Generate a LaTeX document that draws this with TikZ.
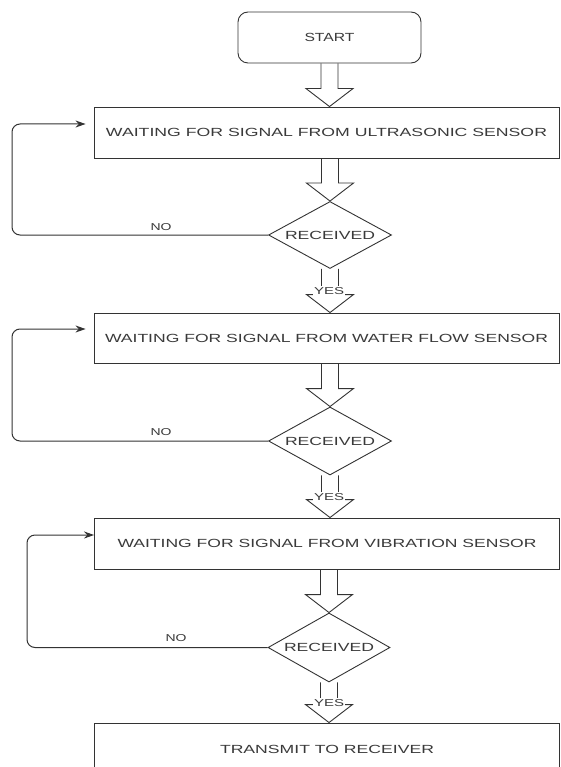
\documentclass[tikz,border=0pt]{standalone}
\usepackage{fontspec}
\setmainfont{Liberation Sans}
\usetikzlibrary{shapes.geometric,arrows.meta,calc}
\definecolor{ink}{HTML}{333333}
\definecolor{txt}{HTML}{3A3A3A}
% text stretched to a given width, natural height kept
\newcommand\wtext[2]{\resizebox{#1}{\height}{#2}}
% hollow block arrow: #1 = top of the shaft, #2 = tip
\newcommand\fatarrow[2]{%
  \draw[fatline] let \p1=(#1), \p2=(#2) in
    (\x2-8.5pt,\y1) -- (\x2-8.5pt,\y2+18pt) -- (\x2-23.5pt,\y2+18pt) -- (\x2,\y2)
    -- (\x2+23.5pt,\y2+18pt) -- (\x2+8.5pt,\y2+18pt) -- (\x2+8.5pt,\y1);}
\tikzset{
  mainfont/.style={font=\fontsize{11.8}{14}\selectfont, text=txt},
  startbox/.style={draw=ink, line width=0.9pt, rounded corners=10pt,
    minimum width=183pt, minimum height=51pt, inner sep=0pt, mainfont},
  procbox/.style={draw=ink, line width=0.9pt, minimum width=465pt,
    minimum height=51pt, inner sep=0pt, mainfont},
  decision/.style={diamond, draw=ink, line width=0.9pt, aspect=1.86,
    minimum width=123pt, minimum height=67pt, inner sep=0pt, mainfont},
  fatline/.style={draw=ink, line width=0.9pt, line join=miter},
  loopline/.style={draw=ink, line width=1pt, rounded corners=8pt,
    -{Stealth[length=10pt,width=7pt]}},
  lbl/.style={font=\fontsize{10}{12}\selectfont, text=txt, inner sep=1pt},
  yeslbl/.style={lbl, fill=white},
}
\begin{document}
\begin{tikzpicture}[x=1pt,y=1pt]
\useasboundingbox (0,0) rectangle (560,-767);
\clip (0,0) rectangle (560,-767);
\fill[white] (0,0) rectangle (560,-767);

% nodes
\node[startbox] (start) at (329.5,-37.5) {\wtext{50pt}{START}};
\node[procbox] (b1) at (326.5,-132.5) {\wtext{441pt}{WAITING FOR SIGNAL FROM ULTRASONIC SENSOR}};
\node[decision] (d1) at (330,-235) {\wtext{90pt}{RECEIVED}};
\node[procbox, minimum height=50pt] (b2) at (326.5,-338) {\wtext{443pt}{WAITING FOR SIGNAL FROM WATER FLOW SENSOR}};
\node[decision, minimum height=68pt] (d2) at (330,-441) {\wtext{90pt}{RECEIVED}};
\node[procbox] (b3) at (327,-543.5) {\wtext{419pt}{WAITING FOR SIGNAL FROM VIBRATION SENSOR}};
\node[decision, minimum height=69pt, minimum width=122pt] (d3) at (329,-647.5) {\wtext{90pt}{RECEIVED}};
\node[procbox, minimum height=52pt] (b4) at (327,-749) {\wtext{214pt}{TRANSMIT TO RECEIVER}};

% block arrows down the main flow
\fatarrow{start.south}{start.south |- b1.north}
\fatarrow{d1.north |- b1.south}{d1.north}
\fatarrow{d1.south}{d1.south |- b2.north}
\fatarrow{d2.north |- b2.south}{d2.north}
\fatarrow{d2.south}{d2.south |- b3.north}
\fatarrow{d3.north |- b3.south}{d3.north}
\fatarrow{d3.south}{d3.south |- b4.north}

% NO loops back to the waiting boxes
\coordinate (k1) at (12,-124);
\coordinate (k2) at (12,-329);
\coordinate (k3) at (27,-535);
\draw[loopline, shorten >=8pt] (d1.west) -| (k1) -- (b1.west |- k1);
\draw[loopline, shorten >=8pt] (d2.west) -| (k2) -- (b2.west |- k2);
\draw[loopline] (d3.west) -| (k3) -- (b3.west |- k3);

% labels
\node[lbl] (no1) at (161,-227) {\wtext{21pt}{NO}};
\node[lbl] (no2) at (161,-432) {\wtext{21pt}{NO}};
\node[lbl] (no3) at (176,-638) {\wtext{21pt}{NO}};
\node[yeslbl] (yes1) at (329,-291) {\wtext{30pt}{YES}};
\node[yeslbl] (yes2) at (329,-497) {\wtext{30pt}{YES}};
\node[yeslbl] (yes3) at (329,-703) {\wtext{30pt}{YES}};
\end{tikzpicture}
\end{document}
